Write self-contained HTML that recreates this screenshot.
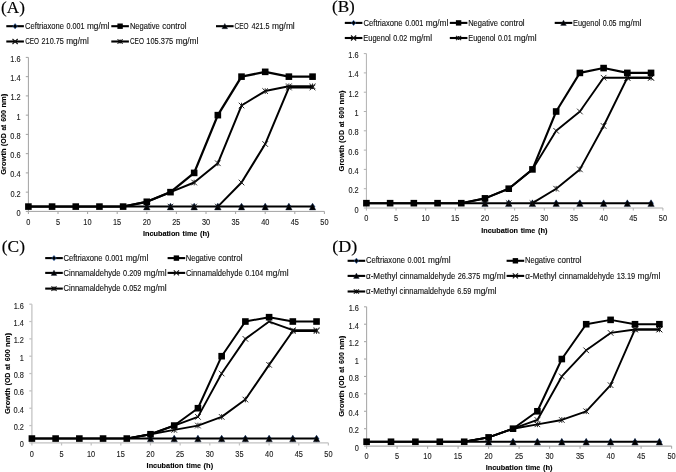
<!DOCTYPE html>
<html><head><meta charset="utf-8"><title>Growth curves</title>
<style>
html,body{margin:0;padding:0;background:#fff;}
body{width:676px;height:472px;overflow:hidden;font-family:"Liberation Sans", sans-serif;}
svg{display:block;will-change:transform;}
</style></head>
<body>
<svg width="676" height="472" viewBox="0 0 676 472">
<rect width="676" height="472" fill="#fff"/>
<path d="M28.40 57.40V211.40H324.40" stroke="#a2a2a2" stroke-width="1.0" fill="none"/>
<path d="M25.80 211.40H28.40" stroke="#a2a2a2" stroke-width="1.0"/>
<text x="16.48" y="215.90" font-family='"Liberation Sans", sans-serif' font-size="8.4" font-weight="normal" fill="#1a1a1a" stroke="#1a1a1a" stroke-width="0.12" textLength="4.11" lengthAdjust="spacingAndGlyphs">0</text>
<path d="M25.80 192.15H28.40" stroke="#a2a2a2" stroke-width="1.0"/>
<text x="10.39" y="196.65" font-family='"Liberation Sans", sans-serif' font-size="8.4" font-weight="normal" fill="#1a1a1a" stroke="#1a1a1a" stroke-width="0.12" textLength="10.28" lengthAdjust="spacingAndGlyphs">0.2</text>
<path d="M25.80 172.90H28.40" stroke="#a2a2a2" stroke-width="1.0"/>
<text x="10.24" y="177.40" font-family='"Liberation Sans", sans-serif' font-size="8.4" font-weight="normal" fill="#1a1a1a" stroke="#1a1a1a" stroke-width="0.12" textLength="10.28" lengthAdjust="spacingAndGlyphs">0.4</text>
<path d="M25.80 153.65H28.40" stroke="#a2a2a2" stroke-width="1.0"/>
<text x="10.35" y="158.15" font-family='"Liberation Sans", sans-serif' font-size="8.4" font-weight="normal" fill="#1a1a1a" stroke="#1a1a1a" stroke-width="0.12" textLength="10.28" lengthAdjust="spacingAndGlyphs">0.6</text>
<path d="M25.80 134.40H28.40" stroke="#a2a2a2" stroke-width="1.0"/>
<text x="10.34" y="138.90" font-family='"Liberation Sans", sans-serif' font-size="8.4" font-weight="normal" fill="#1a1a1a" stroke="#1a1a1a" stroke-width="0.12" textLength="10.28" lengthAdjust="spacingAndGlyphs">0.8</text>
<path d="M25.80 115.15H28.40" stroke="#a2a2a2" stroke-width="1.0"/>
<text x="16.55" y="119.65" font-family='"Liberation Sans", sans-serif' font-size="8.4" font-weight="normal" fill="#1a1a1a" stroke="#1a1a1a" stroke-width="0.12" textLength="4.11" lengthAdjust="spacingAndGlyphs">1</text>
<path d="M25.80 95.90H28.40" stroke="#a2a2a2" stroke-width="1.0"/>
<text x="10.39" y="100.40" font-family='"Liberation Sans", sans-serif' font-size="8.4" font-weight="normal" fill="#1a1a1a" stroke="#1a1a1a" stroke-width="0.12" textLength="10.28" lengthAdjust="spacingAndGlyphs">1.2</text>
<path d="M25.80 76.65H28.40" stroke="#a2a2a2" stroke-width="1.0"/>
<text x="10.24" y="81.15" font-family='"Liberation Sans", sans-serif' font-size="8.4" font-weight="normal" fill="#1a1a1a" stroke="#1a1a1a" stroke-width="0.12" textLength="10.28" lengthAdjust="spacingAndGlyphs">1.4</text>
<path d="M25.80 57.40H28.40" stroke="#a2a2a2" stroke-width="1.0"/>
<text x="10.35" y="61.90" font-family='"Liberation Sans", sans-serif' font-size="8.4" font-weight="normal" fill="#1a1a1a" stroke="#1a1a1a" stroke-width="0.12" textLength="10.28" lengthAdjust="spacingAndGlyphs">1.6</text>
<path d="M28.40 211.40V214.00" stroke="#a2a2a2" stroke-width="1.0"/>
<text x="26.35" y="224.60" font-family='"Liberation Sans", sans-serif' font-size="8.4" font-weight="normal" fill="#1a1a1a" stroke="#1a1a1a" stroke-width="0.12" textLength="4.11" lengthAdjust="spacingAndGlyphs">0</text>
<path d="M58.00 211.40V214.00" stroke="#a2a2a2" stroke-width="1.0"/>
<text x="55.95" y="224.60" font-family='"Liberation Sans", sans-serif' font-size="8.4" font-weight="normal" fill="#1a1a1a" stroke="#1a1a1a" stroke-width="0.12" textLength="4.11" lengthAdjust="spacingAndGlyphs">5</text>
<path d="M87.60 211.40V214.00" stroke="#a2a2a2" stroke-width="1.0"/>
<text x="83.35" y="224.60" font-family='"Liberation Sans", sans-serif' font-size="8.4" font-weight="normal" fill="#1a1a1a" stroke="#1a1a1a" stroke-width="0.12" textLength="8.22" lengthAdjust="spacingAndGlyphs">10</text>
<path d="M117.20 211.40V214.00" stroke="#a2a2a2" stroke-width="1.0"/>
<text x="112.96" y="224.60" font-family='"Liberation Sans", sans-serif' font-size="8.4" font-weight="normal" fill="#1a1a1a" stroke="#1a1a1a" stroke-width="0.12" textLength="8.22" lengthAdjust="spacingAndGlyphs">15</text>
<path d="M146.80 211.40V214.00" stroke="#a2a2a2" stroke-width="1.0"/>
<text x="142.65" y="224.60" font-family='"Liberation Sans", sans-serif' font-size="8.4" font-weight="normal" fill="#1a1a1a" stroke="#1a1a1a" stroke-width="0.12" textLength="8.22" lengthAdjust="spacingAndGlyphs">20</text>
<path d="M176.40 211.40V214.00" stroke="#a2a2a2" stroke-width="1.0"/>
<text x="172.26" y="224.60" font-family='"Liberation Sans", sans-serif' font-size="8.4" font-weight="normal" fill="#1a1a1a" stroke="#1a1a1a" stroke-width="0.12" textLength="8.22" lengthAdjust="spacingAndGlyphs">25</text>
<path d="M206.00 211.40V214.00" stroke="#a2a2a2" stroke-width="1.0"/>
<text x="201.89" y="224.60" font-family='"Liberation Sans", sans-serif' font-size="8.4" font-weight="normal" fill="#1a1a1a" stroke="#1a1a1a" stroke-width="0.12" textLength="8.22" lengthAdjust="spacingAndGlyphs">30</text>
<path d="M235.60 211.40V214.00" stroke="#a2a2a2" stroke-width="1.0"/>
<text x="231.50" y="224.60" font-family='"Liberation Sans", sans-serif' font-size="8.4" font-weight="normal" fill="#1a1a1a" stroke="#1a1a1a" stroke-width="0.12" textLength="8.22" lengthAdjust="spacingAndGlyphs">35</text>
<path d="M265.20 211.40V214.00" stroke="#a2a2a2" stroke-width="1.0"/>
<text x="261.15" y="224.60" font-family='"Liberation Sans", sans-serif' font-size="8.4" font-weight="normal" fill="#1a1a1a" stroke="#1a1a1a" stroke-width="0.12" textLength="8.22" lengthAdjust="spacingAndGlyphs">40</text>
<path d="M294.80 211.40V214.00" stroke="#a2a2a2" stroke-width="1.0"/>
<text x="290.76" y="224.60" font-family='"Liberation Sans", sans-serif' font-size="8.4" font-weight="normal" fill="#1a1a1a" stroke="#1a1a1a" stroke-width="0.12" textLength="8.22" lengthAdjust="spacingAndGlyphs">45</text>
<path d="M324.40 211.40V214.00" stroke="#a2a2a2" stroke-width="1.0"/>
<text x="320.29" y="224.60" font-family='"Liberation Sans", sans-serif' font-size="8.4" font-weight="normal" fill="#1a1a1a" stroke="#1a1a1a" stroke-width="0.12" textLength="8.22" lengthAdjust="spacingAndGlyphs">50</text>
<path d="M146.80 203.59L149.20 206.59L146.80 209.59L144.40 206.59Z" fill="#000" stroke="#3d74c4" stroke-width="0.6"/>
<path d="M170.48 203.59L172.88 206.59L170.48 209.59L168.08 206.59Z" fill="#000" stroke="#3d74c4" stroke-width="0.6"/>
<path d="M194.16 203.59L196.56 206.59L194.16 209.59L191.76 206.59Z" fill="#000" stroke="#3d74c4" stroke-width="0.6"/>
<path d="M217.84 203.59L220.24 206.59L217.84 209.59L215.44 206.59Z" fill="#000" stroke="#3d74c4" stroke-width="0.6"/>
<path d="M241.52 203.59L243.92 206.59L241.52 209.59L239.12 206.59Z" fill="#000" stroke="#3d74c4" stroke-width="0.6"/>
<path d="M265.20 203.59L267.60 206.59L265.20 209.59L262.80 206.59Z" fill="#000" stroke="#3d74c4" stroke-width="0.6"/>
<path d="M288.88 203.59L291.28 206.59L288.88 209.59L286.48 206.59Z" fill="#000" stroke="#3d74c4" stroke-width="0.6"/>
<path d="M312.56 203.59L314.96 206.59L312.56 209.59L310.16 206.59Z" fill="#000" stroke="#3d74c4" stroke-width="0.6"/>
<polyline points="28.40,206.59 52.08,206.59 75.76,206.59 99.44,206.59 123.12,206.59 146.80,206.59 170.48,206.59 194.16,206.59 217.84,206.59 241.52,206.59 265.20,206.59 288.88,206.59 312.56,206.59" fill="none" stroke="#000" stroke-width="2.0" stroke-linejoin="round" stroke-linecap="round"/>
<path d="M146.80 203.19L150.00 209.89L143.60 209.89Z" fill="#000" stroke="#1f2a44" stroke-width="0.4"/>
<path d="M170.48 203.19L173.68 209.89L167.28 209.89Z" fill="#000" stroke="#1f2a44" stroke-width="0.4"/>
<path d="M194.16 203.19L197.36 209.89L190.96 209.89Z" fill="#000" stroke="#1f2a44" stroke-width="0.4"/>
<path d="M217.84 203.19L221.04 209.89L214.64 209.89Z" fill="#000" stroke="#1f2a44" stroke-width="0.4"/>
<path d="M241.52 203.19L244.72 209.89L238.32 209.89Z" fill="#000" stroke="#1f2a44" stroke-width="0.4"/>
<path d="M265.20 203.19L268.40 209.89L262.00 209.89Z" fill="#000" stroke="#1f2a44" stroke-width="0.4"/>
<path d="M288.88 203.19L292.08 209.89L285.68 209.89Z" fill="#000" stroke="#1f2a44" stroke-width="0.4"/>
<path d="M312.56 203.19L315.76 209.89L309.36 209.89Z" fill="#000" stroke="#1f2a44" stroke-width="0.4"/>
<polyline points="217.84,206.59 241.52,182.53 265.20,144.03 288.88,87.53 312.56,87.53" fill="none" stroke="#000" stroke-width="2.0" stroke-linejoin="round" stroke-linecap="round"/>
<path d="M144.00 203.79L149.60 209.39M149.60 203.79L144.00 209.39" stroke="#111" stroke-width="0.9" fill="none"/>
<path d="M167.68 203.79L173.28 209.39M173.28 203.79L167.68 209.39" stroke="#111" stroke-width="0.9" fill="none"/>
<path d="M191.36 203.79L196.96 209.39M196.96 203.79L191.36 209.39" stroke="#111" stroke-width="0.9" fill="none"/>
<path d="M215.04 203.79L220.64 209.39M220.64 203.79L215.04 209.39" stroke="#111" stroke-width="0.9" fill="none"/>
<path d="M238.72 179.72L244.32 185.33M244.32 179.72L238.72 185.33" stroke="#111" stroke-width="0.9" fill="none"/>
<path d="M262.40 141.22L268.00 146.83M268.00 141.22L262.40 146.83" stroke="#111" stroke-width="0.9" fill="none"/>
<path d="M286.08 84.73L291.68 90.33M291.68 84.73L286.08 90.33" stroke="#111" stroke-width="0.9" fill="none"/>
<path d="M309.76 84.73L315.36 90.33M315.36 84.73L309.76 90.33" stroke="#111" stroke-width="0.9" fill="none"/>
<polyline points="123.12,206.59 146.80,201.78 170.48,192.15 194.16,182.53 217.84,163.28 241.52,105.52 265.20,91.09 288.88,86.28 312.56,86.28" fill="none" stroke="#000" stroke-width="2.0" stroke-linejoin="round" stroke-linecap="round"/>
<path d="M191.36 179.72L196.96 185.33M196.96 179.72L191.36 185.33M194.16 179.72L194.16 185.33" stroke="#111" stroke-width="0.9" fill="none"/>
<path d="M215.04 160.47L220.64 166.08M220.64 160.47L215.04 166.08M217.84 160.47L217.84 166.08" stroke="#111" stroke-width="0.9" fill="none"/>
<path d="M238.72 102.72L244.32 108.32M244.32 102.72L238.72 108.32M241.52 102.72L241.52 108.32" stroke="#111" stroke-width="0.9" fill="none"/>
<path d="M262.40 88.29L268.00 93.89M268.00 88.29L262.40 93.89M265.20 88.29L265.20 93.89" stroke="#111" stroke-width="0.9" fill="none"/>
<path d="M286.08 83.48L291.68 89.08M291.68 83.48L286.08 89.08M288.88 83.48L288.88 89.08" stroke="#111" stroke-width="0.9" fill="none"/>
<path d="M309.76 83.48L315.36 89.08M315.36 83.48L309.76 89.08M312.56 83.48L312.56 89.08" stroke="#111" stroke-width="0.9" fill="none"/>
<polyline points="28.40,206.59 52.08,206.59 75.76,206.59 99.44,206.59 123.12,206.59 146.80,201.78 170.48,192.15 194.16,172.90 217.84,115.15 241.52,76.65 265.20,71.84 288.88,76.65 312.56,76.65" fill="none" stroke="#000" stroke-width="2.3" stroke-linejoin="round" stroke-linecap="round"/>
<rect x="25.10" y="203.29" width="6.60" height="6.60" fill="#000"/>
<rect x="48.78" y="203.29" width="6.60" height="6.60" fill="#000"/>
<rect x="72.46" y="203.29" width="6.60" height="6.60" fill="#000"/>
<rect x="96.14" y="203.29" width="6.60" height="6.60" fill="#000"/>
<rect x="119.82" y="203.29" width="6.60" height="6.60" fill="#000"/>
<rect x="143.50" y="198.47" width="6.60" height="6.60" fill="#000"/>
<rect x="167.18" y="188.85" width="6.60" height="6.60" fill="#000"/>
<rect x="190.86" y="169.60" width="6.60" height="6.60" fill="#000"/>
<rect x="214.54" y="111.85" width="6.60" height="6.60" fill="#000"/>
<rect x="238.22" y="73.35" width="6.60" height="6.60" fill="#000"/>
<rect x="261.90" y="68.54" width="6.60" height="6.60" fill="#000"/>
<rect x="285.58" y="73.35" width="6.60" height="6.60" fill="#000"/>
<rect x="309.26" y="73.35" width="6.60" height="6.60" fill="#000"/>
<text x="1.05" y="12.60" font-family='"Liberation Serif", serif' font-size="16" font-weight="normal" fill="#000" stroke="#000" stroke-width="0.15" textLength="23.81" lengthAdjust="spacingAndGlyphs">(A)</text>
<text transform="translate(6.00 174.81) rotate(-90)" x="0" y="0" font-family='"Liberation Sans", sans-serif' font-size="8.0" font-weight="bold" fill="#000" stroke="#000" stroke-width="0.12" textLength="26.31" lengthAdjust="spacingAndGlyphs">Growth</text>
<text transform="translate(6.00 146.03) rotate(-90)" x="0" y="0" font-family='"Liberation Sans", sans-serif' font-size="8.0" font-weight="bold" fill="#000" stroke="#000" stroke-width="0.12" textLength="12.66" lengthAdjust="spacingAndGlyphs">(OD</text>
<text transform="translate(6.00 130.58) rotate(-90)" x="0" y="0" font-family='"Liberation Sans", sans-serif' font-size="8.0" font-weight="bold" fill="#000" stroke="#000" stroke-width="0.12" textLength="5.82" lengthAdjust="spacingAndGlyphs">at</text>
<text transform="translate(6.00 121.83) rotate(-90)" x="0" y="0" font-family='"Liberation Sans", sans-serif' font-size="8.0" font-weight="bold" fill="#000" stroke="#000" stroke-width="0.12" textLength="11.74" lengthAdjust="spacingAndGlyphs">600</text>
<text transform="translate(6.00 107.61) rotate(-90)" x="0" y="0" font-family='"Liberation Sans", sans-serif' font-size="8.0" font-weight="bold" fill="#000" stroke="#000" stroke-width="0.12" textLength="13.89" lengthAdjust="spacingAndGlyphs">nm)</text>
<text x="142.91" y="235.80" font-family='"Liberation Sans", sans-serif' font-size="8.0" font-weight="bold" fill="#000" stroke="#000" stroke-width="0.12" textLength="36.93" lengthAdjust="spacingAndGlyphs">Incubation</text>
<text x="182.57" y="235.80" font-family='"Liberation Sans", sans-serif' font-size="8.0" font-weight="bold" fill="#000" stroke="#000" stroke-width="0.12" textLength="14.68" lengthAdjust="spacingAndGlyphs">time</text>
<text x="199.90" y="235.80" font-family='"Liberation Sans", sans-serif' font-size="8.0" font-weight="bold" fill="#000" stroke="#000" stroke-width="0.12" textLength="9.58" lengthAdjust="spacingAndGlyphs">(h)</text>
<path d="M366.40 53.60V208.00H662.90" stroke="#b0b0b0" stroke-width="1.0" fill="none"/>
<path d="M363.80 208.00H366.40" stroke="#b0b0b0" stroke-width="1.0"/>
<text x="354.48" y="212.50" font-family='"Liberation Sans", sans-serif' font-size="8.4" font-weight="normal" fill="#1a1a1a" stroke="#1a1a1a" stroke-width="0.12" textLength="4.11" lengthAdjust="spacingAndGlyphs">0</text>
<path d="M363.80 188.70H366.40" stroke="#b0b0b0" stroke-width="1.0"/>
<text x="348.39" y="193.20" font-family='"Liberation Sans", sans-serif' font-size="8.4" font-weight="normal" fill="#1a1a1a" stroke="#1a1a1a" stroke-width="0.12" textLength="10.28" lengthAdjust="spacingAndGlyphs">0.2</text>
<path d="M363.80 169.40H366.40" stroke="#b0b0b0" stroke-width="1.0"/>
<text x="348.24" y="173.90" font-family='"Liberation Sans", sans-serif' font-size="8.4" font-weight="normal" fill="#1a1a1a" stroke="#1a1a1a" stroke-width="0.12" textLength="10.28" lengthAdjust="spacingAndGlyphs">0.4</text>
<path d="M363.80 150.10H366.40" stroke="#b0b0b0" stroke-width="1.0"/>
<text x="348.35" y="154.60" font-family='"Liberation Sans", sans-serif' font-size="8.4" font-weight="normal" fill="#1a1a1a" stroke="#1a1a1a" stroke-width="0.12" textLength="10.28" lengthAdjust="spacingAndGlyphs">0.6</text>
<path d="M363.80 130.80H366.40" stroke="#b0b0b0" stroke-width="1.0"/>
<text x="348.34" y="135.30" font-family='"Liberation Sans", sans-serif' font-size="8.4" font-weight="normal" fill="#1a1a1a" stroke="#1a1a1a" stroke-width="0.12" textLength="10.28" lengthAdjust="spacingAndGlyphs">0.8</text>
<path d="M363.80 111.50H366.40" stroke="#b0b0b0" stroke-width="1.0"/>
<text x="354.55" y="116.00" font-family='"Liberation Sans", sans-serif' font-size="8.4" font-weight="normal" fill="#1a1a1a" stroke="#1a1a1a" stroke-width="0.12" textLength="4.11" lengthAdjust="spacingAndGlyphs">1</text>
<path d="M363.80 92.20H366.40" stroke="#b0b0b0" stroke-width="1.0"/>
<text x="348.39" y="96.70" font-family='"Liberation Sans", sans-serif' font-size="8.4" font-weight="normal" fill="#1a1a1a" stroke="#1a1a1a" stroke-width="0.12" textLength="10.28" lengthAdjust="spacingAndGlyphs">1.2</text>
<path d="M363.80 72.90H366.40" stroke="#b0b0b0" stroke-width="1.0"/>
<text x="348.24" y="77.40" font-family='"Liberation Sans", sans-serif' font-size="8.4" font-weight="normal" fill="#1a1a1a" stroke="#1a1a1a" stroke-width="0.12" textLength="10.28" lengthAdjust="spacingAndGlyphs">1.4</text>
<path d="M363.80 53.60H366.40" stroke="#b0b0b0" stroke-width="1.0"/>
<text x="348.35" y="58.10" font-family='"Liberation Sans", sans-serif' font-size="8.4" font-weight="normal" fill="#1a1a1a" stroke="#1a1a1a" stroke-width="0.12" textLength="10.28" lengthAdjust="spacingAndGlyphs">1.6</text>
<path d="M366.40 208.00V210.60" stroke="#b0b0b0" stroke-width="1.0"/>
<text x="364.35" y="221.30" font-family='"Liberation Sans", sans-serif' font-size="8.4" font-weight="normal" fill="#1a1a1a" stroke="#1a1a1a" stroke-width="0.12" textLength="4.11" lengthAdjust="spacingAndGlyphs">0</text>
<path d="M396.05 208.00V210.60" stroke="#b0b0b0" stroke-width="1.0"/>
<text x="394.00" y="221.30" font-family='"Liberation Sans", sans-serif' font-size="8.4" font-weight="normal" fill="#1a1a1a" stroke="#1a1a1a" stroke-width="0.12" textLength="4.11" lengthAdjust="spacingAndGlyphs">5</text>
<path d="M425.70 208.00V210.60" stroke="#b0b0b0" stroke-width="1.0"/>
<text x="421.45" y="221.30" font-family='"Liberation Sans", sans-serif' font-size="8.4" font-weight="normal" fill="#1a1a1a" stroke="#1a1a1a" stroke-width="0.12" textLength="8.22" lengthAdjust="spacingAndGlyphs">10</text>
<path d="M455.35 208.00V210.60" stroke="#b0b0b0" stroke-width="1.0"/>
<text x="451.11" y="221.30" font-family='"Liberation Sans", sans-serif' font-size="8.4" font-weight="normal" fill="#1a1a1a" stroke="#1a1a1a" stroke-width="0.12" textLength="8.22" lengthAdjust="spacingAndGlyphs">15</text>
<path d="M485.00 208.00V210.60" stroke="#b0b0b0" stroke-width="1.0"/>
<text x="480.85" y="221.30" font-family='"Liberation Sans", sans-serif' font-size="8.4" font-weight="normal" fill="#1a1a1a" stroke="#1a1a1a" stroke-width="0.12" textLength="8.22" lengthAdjust="spacingAndGlyphs">20</text>
<path d="M514.65 208.00V210.60" stroke="#b0b0b0" stroke-width="1.0"/>
<text x="510.51" y="221.30" font-family='"Liberation Sans", sans-serif' font-size="8.4" font-weight="normal" fill="#1a1a1a" stroke="#1a1a1a" stroke-width="0.12" textLength="8.22" lengthAdjust="spacingAndGlyphs">25</text>
<path d="M544.30 208.00V210.60" stroke="#b0b0b0" stroke-width="1.0"/>
<text x="540.19" y="221.30" font-family='"Liberation Sans", sans-serif' font-size="8.4" font-weight="normal" fill="#1a1a1a" stroke="#1a1a1a" stroke-width="0.12" textLength="8.22" lengthAdjust="spacingAndGlyphs">30</text>
<path d="M573.95 208.00V210.60" stroke="#b0b0b0" stroke-width="1.0"/>
<text x="569.85" y="221.30" font-family='"Liberation Sans", sans-serif' font-size="8.4" font-weight="normal" fill="#1a1a1a" stroke="#1a1a1a" stroke-width="0.12" textLength="8.22" lengthAdjust="spacingAndGlyphs">35</text>
<path d="M603.60 208.00V210.60" stroke="#b0b0b0" stroke-width="1.0"/>
<text x="599.55" y="221.30" font-family='"Liberation Sans", sans-serif' font-size="8.4" font-weight="normal" fill="#1a1a1a" stroke="#1a1a1a" stroke-width="0.12" textLength="8.22" lengthAdjust="spacingAndGlyphs">40</text>
<path d="M633.25 208.00V210.60" stroke="#b0b0b0" stroke-width="1.0"/>
<text x="629.21" y="221.30" font-family='"Liberation Sans", sans-serif' font-size="8.4" font-weight="normal" fill="#1a1a1a" stroke="#1a1a1a" stroke-width="0.12" textLength="8.22" lengthAdjust="spacingAndGlyphs">45</text>
<path d="M662.90 208.00V210.60" stroke="#b0b0b0" stroke-width="1.0"/>
<text x="658.79" y="221.30" font-family='"Liberation Sans", sans-serif' font-size="8.4" font-weight="normal" fill="#1a1a1a" stroke="#1a1a1a" stroke-width="0.12" textLength="8.22" lengthAdjust="spacingAndGlyphs">50</text>
<path d="M485.00 200.18L487.40 203.18L485.00 206.18L482.60 203.18Z" fill="#000" stroke="#3d74c4" stroke-width="0.6"/>
<path d="M508.72 200.18L511.12 203.18L508.72 206.18L506.32 203.18Z" fill="#000" stroke="#3d74c4" stroke-width="0.6"/>
<path d="M532.44 200.18L534.84 203.18L532.44 206.18L530.04 203.18Z" fill="#000" stroke="#3d74c4" stroke-width="0.6"/>
<path d="M556.16 200.18L558.56 203.18L556.16 206.18L553.76 203.18Z" fill="#000" stroke="#3d74c4" stroke-width="0.6"/>
<path d="M579.88 200.18L582.28 203.18L579.88 206.18L577.48 203.18Z" fill="#000" stroke="#3d74c4" stroke-width="0.6"/>
<path d="M603.60 200.18L606.00 203.18L603.60 206.18L601.20 203.18Z" fill="#000" stroke="#3d74c4" stroke-width="0.6"/>
<path d="M627.32 200.18L629.72 203.18L627.32 206.18L624.92 203.18Z" fill="#000" stroke="#3d74c4" stroke-width="0.6"/>
<path d="M651.04 200.18L653.44 203.18L651.04 206.18L648.64 203.18Z" fill="#000" stroke="#3d74c4" stroke-width="0.6"/>
<polyline points="366.40,203.18 390.12,203.18 413.84,203.18 437.56,203.18 461.28,203.18 485.00,203.18 508.72,203.18 532.44,203.18 556.16,203.18 579.88,203.18 603.60,203.18 627.32,203.18 651.04,203.18" fill="none" stroke="#000" stroke-width="1.9" stroke-linejoin="round" stroke-linecap="round"/>
<path d="M485.00 199.78L488.20 206.48L481.80 206.48Z" fill="#000" stroke="#1f2a44" stroke-width="0.4"/>
<path d="M508.72 199.78L511.92 206.48L505.52 206.48Z" fill="#000" stroke="#1f2a44" stroke-width="0.4"/>
<path d="M532.44 199.78L535.64 206.48L529.24 206.48Z" fill="#000" stroke="#1f2a44" stroke-width="0.4"/>
<path d="M556.16 199.78L559.36 206.48L552.96 206.48Z" fill="#000" stroke="#1f2a44" stroke-width="0.4"/>
<path d="M579.88 199.78L583.08 206.48L576.68 206.48Z" fill="#000" stroke="#1f2a44" stroke-width="0.4"/>
<path d="M603.60 199.78L606.80 206.48L600.40 206.48Z" fill="#000" stroke="#1f2a44" stroke-width="0.4"/>
<path d="M627.32 199.78L630.52 206.48L624.12 206.48Z" fill="#000" stroke="#1f2a44" stroke-width="0.4"/>
<path d="M651.04 199.78L654.24 206.48L647.84 206.48Z" fill="#000" stroke="#1f2a44" stroke-width="0.4"/>
<polyline points="532.44,203.18 556.16,188.70 579.88,169.40 603.60,125.98 627.32,77.72 651.04,77.72" fill="none" stroke="#000" stroke-width="1.9" stroke-linejoin="round" stroke-linecap="round"/>
<path d="M482.20 200.38L487.80 205.98M487.80 200.38L482.20 205.98M485.00 200.38L485.00 205.98" stroke="#111" stroke-width="0.9" fill="none"/>
<path d="M505.92 200.38L511.52 205.98M511.52 200.38L505.92 205.98M508.72 200.38L508.72 205.98" stroke="#111" stroke-width="0.9" fill="none"/>
<path d="M529.64 200.38L535.24 205.98M535.24 200.38L529.64 205.98M532.44 200.38L532.44 205.98" stroke="#111" stroke-width="0.9" fill="none"/>
<path d="M553.36 185.90L558.96 191.50M558.96 185.90L553.36 191.50M556.16 185.90L556.16 191.50" stroke="#111" stroke-width="0.9" fill="none"/>
<path d="M577.08 166.60L582.68 172.20M582.68 166.60L577.08 172.20M579.88 166.60L579.88 172.20" stroke="#111" stroke-width="0.9" fill="none"/>
<path d="M600.80 123.18L606.40 128.78M606.40 123.18L600.80 128.78M603.60 123.18L603.60 128.78" stroke="#111" stroke-width="0.9" fill="none"/>
<path d="M624.52 74.92L630.12 80.52M630.12 74.92L624.52 80.52M627.32 74.92L627.32 80.52" stroke="#111" stroke-width="0.9" fill="none"/>
<path d="M648.24 74.92L653.84 80.52M653.84 74.92L648.24 80.52M651.04 74.92L651.04 80.52" stroke="#111" stroke-width="0.9" fill="none"/>
<polyline points="461.28,203.18 485.00,198.35 508.72,188.70 532.44,169.40 556.16,130.80 579.88,111.50 603.60,77.72 627.32,77.72 651.04,77.72" fill="none" stroke="#000" stroke-width="1.9" stroke-linejoin="round" stroke-linecap="round"/>
<path d="M553.36 128.00L558.96 133.60M558.96 128.00L553.36 133.60" stroke="#111" stroke-width="0.9" fill="none"/>
<path d="M577.08 108.70L582.68 114.30M582.68 108.70L577.08 114.30" stroke="#111" stroke-width="0.9" fill="none"/>
<path d="M600.80 74.92L606.40 80.52M606.40 74.92L600.80 80.52" stroke="#111" stroke-width="0.9" fill="none"/>
<path d="M624.52 74.92L630.12 80.52M630.12 74.92L624.52 80.52" stroke="#111" stroke-width="0.9" fill="none"/>
<path d="M648.24 74.92L653.84 80.52M653.84 74.92L648.24 80.52" stroke="#111" stroke-width="0.9" fill="none"/>
<polyline points="366.40,203.18 390.12,203.18 413.84,203.18 437.56,203.18 461.28,203.18 485.00,198.35 508.72,188.70 532.44,169.40 556.16,111.50 579.88,72.90 603.60,68.08 627.32,72.90 651.04,72.90" fill="none" stroke="#000" stroke-width="2.1" stroke-linejoin="round" stroke-linecap="round"/>
<rect x="363.10" y="199.88" width="6.60" height="6.60" fill="#000"/>
<rect x="386.82" y="199.88" width="6.60" height="6.60" fill="#000"/>
<rect x="410.54" y="199.88" width="6.60" height="6.60" fill="#000"/>
<rect x="434.26" y="199.88" width="6.60" height="6.60" fill="#000"/>
<rect x="457.98" y="199.88" width="6.60" height="6.60" fill="#000"/>
<rect x="481.70" y="195.05" width="6.60" height="6.60" fill="#000"/>
<rect x="505.42" y="185.40" width="6.60" height="6.60" fill="#000"/>
<rect x="529.14" y="166.10" width="6.60" height="6.60" fill="#000"/>
<rect x="552.86" y="108.20" width="6.60" height="6.60" fill="#000"/>
<rect x="576.58" y="69.60" width="6.60" height="6.60" fill="#000"/>
<rect x="600.30" y="64.78" width="6.60" height="6.60" fill="#000"/>
<rect x="624.02" y="69.60" width="6.60" height="6.60" fill="#000"/>
<rect x="647.74" y="69.60" width="6.60" height="6.60" fill="#000"/>
<text x="331.94" y="11.60" font-family='"Liberation Serif", serif' font-size="16" font-weight="normal" fill="#000" stroke="#000" stroke-width="0.15" textLength="22.91" lengthAdjust="spacingAndGlyphs">(B)</text>
<text transform="translate(344.00 171.41) rotate(-90)" x="0" y="0" font-family='"Liberation Sans", sans-serif' font-size="8.0" font-weight="bold" fill="#000" stroke="#000" stroke-width="0.12" textLength="26.25" lengthAdjust="spacingAndGlyphs">Growth</text>
<text transform="translate(344.00 142.70) rotate(-90)" x="0" y="0" font-family='"Liberation Sans", sans-serif' font-size="8.0" font-weight="bold" fill="#000" stroke="#000" stroke-width="0.12" textLength="12.62" lengthAdjust="spacingAndGlyphs">(OD</text>
<text transform="translate(344.00 127.29) rotate(-90)" x="0" y="0" font-family='"Liberation Sans", sans-serif' font-size="8.0" font-weight="bold" fill="#000" stroke="#000" stroke-width="0.12" textLength="5.80" lengthAdjust="spacingAndGlyphs">at</text>
<text transform="translate(344.00 118.56) rotate(-90)" x="0" y="0" font-family='"Liberation Sans", sans-serif' font-size="8.0" font-weight="bold" fill="#000" stroke="#000" stroke-width="0.12" textLength="11.71" lengthAdjust="spacingAndGlyphs">600</text>
<text transform="translate(344.00 104.38) rotate(-90)" x="0" y="0" font-family='"Liberation Sans", sans-serif' font-size="8.0" font-weight="bold" fill="#000" stroke="#000" stroke-width="0.12" textLength="13.85" lengthAdjust="spacingAndGlyphs">nm)</text>
<text x="481.31" y="232.90" font-family='"Liberation Sans", sans-serif' font-size="8.0" font-weight="bold" fill="#000" stroke="#000" stroke-width="0.12" textLength="36.71" lengthAdjust="spacingAndGlyphs">Incubation</text>
<text x="520.74" y="232.90" font-family='"Liberation Sans", sans-serif' font-size="8.0" font-weight="bold" fill="#000" stroke="#000" stroke-width="0.12" textLength="14.58" lengthAdjust="spacingAndGlyphs">time</text>
<text x="537.96" y="232.90" font-family='"Liberation Sans", sans-serif' font-size="8.0" font-weight="bold" fill="#000" stroke="#000" stroke-width="0.12" textLength="9.51" lengthAdjust="spacingAndGlyphs">(h)</text>
<path d="M31.90 304.18V442.90H328.40" stroke="#c2c2c2" stroke-width="1.25" fill="none"/>
<path d="M29.30 442.90H31.90" stroke="#c2c2c2" stroke-width="1.25"/>
<text x="19.78" y="447.40" font-family='"Liberation Sans", sans-serif' font-size="8.4" font-weight="normal" fill="#1a1a1a" stroke="#1a1a1a" stroke-width="0.12" textLength="4.11" lengthAdjust="spacingAndGlyphs">0</text>
<path d="M29.30 425.56H31.90" stroke="#c2c2c2" stroke-width="1.25"/>
<text x="13.69" y="430.06" font-family='"Liberation Sans", sans-serif' font-size="8.4" font-weight="normal" fill="#1a1a1a" stroke="#1a1a1a" stroke-width="0.12" textLength="10.28" lengthAdjust="spacingAndGlyphs">0.2</text>
<path d="M29.30 408.22H31.90" stroke="#c2c2c2" stroke-width="1.25"/>
<text x="13.54" y="412.72" font-family='"Liberation Sans", sans-serif' font-size="8.4" font-weight="normal" fill="#1a1a1a" stroke="#1a1a1a" stroke-width="0.12" textLength="10.28" lengthAdjust="spacingAndGlyphs">0.4</text>
<path d="M29.30 390.88H31.90" stroke="#c2c2c2" stroke-width="1.25"/>
<text x="13.65" y="395.38" font-family='"Liberation Sans", sans-serif' font-size="8.4" font-weight="normal" fill="#1a1a1a" stroke="#1a1a1a" stroke-width="0.12" textLength="10.28" lengthAdjust="spacingAndGlyphs">0.6</text>
<path d="M29.30 373.54H31.90" stroke="#c2c2c2" stroke-width="1.25"/>
<text x="13.64" y="378.04" font-family='"Liberation Sans", sans-serif' font-size="8.4" font-weight="normal" fill="#1a1a1a" stroke="#1a1a1a" stroke-width="0.12" textLength="10.28" lengthAdjust="spacingAndGlyphs">0.8</text>
<path d="M29.30 356.20H31.90" stroke="#c2c2c2" stroke-width="1.25"/>
<text x="19.85" y="360.70" font-family='"Liberation Sans", sans-serif' font-size="8.4" font-weight="normal" fill="#1a1a1a" stroke="#1a1a1a" stroke-width="0.12" textLength="4.11" lengthAdjust="spacingAndGlyphs">1</text>
<path d="M29.30 338.86H31.90" stroke="#c2c2c2" stroke-width="1.25"/>
<text x="13.69" y="343.36" font-family='"Liberation Sans", sans-serif' font-size="8.4" font-weight="normal" fill="#1a1a1a" stroke="#1a1a1a" stroke-width="0.12" textLength="10.28" lengthAdjust="spacingAndGlyphs">1.2</text>
<path d="M29.30 321.52H31.90" stroke="#c2c2c2" stroke-width="1.25"/>
<text x="13.54" y="326.02" font-family='"Liberation Sans", sans-serif' font-size="8.4" font-weight="normal" fill="#1a1a1a" stroke="#1a1a1a" stroke-width="0.12" textLength="10.28" lengthAdjust="spacingAndGlyphs">1.4</text>
<path d="M29.30 304.18H31.90" stroke="#c2c2c2" stroke-width="1.25"/>
<text x="13.65" y="308.68" font-family='"Liberation Sans", sans-serif' font-size="8.4" font-weight="normal" fill="#1a1a1a" stroke="#1a1a1a" stroke-width="0.12" textLength="10.28" lengthAdjust="spacingAndGlyphs">1.6</text>
<path d="M31.90 442.90V445.50" stroke="#c2c2c2" stroke-width="1.25"/>
<text x="29.85" y="456.80" font-family='"Liberation Sans", sans-serif' font-size="8.4" font-weight="normal" fill="#1a1a1a" stroke="#1a1a1a" stroke-width="0.12" textLength="4.11" lengthAdjust="spacingAndGlyphs">0</text>
<path d="M61.55 442.90V445.50" stroke="#c2c2c2" stroke-width="1.25"/>
<text x="59.50" y="456.80" font-family='"Liberation Sans", sans-serif' font-size="8.4" font-weight="normal" fill="#1a1a1a" stroke="#1a1a1a" stroke-width="0.12" textLength="4.11" lengthAdjust="spacingAndGlyphs">5</text>
<path d="M91.20 442.90V445.50" stroke="#c2c2c2" stroke-width="1.25"/>
<text x="86.95" y="456.80" font-family='"Liberation Sans", sans-serif' font-size="8.4" font-weight="normal" fill="#1a1a1a" stroke="#1a1a1a" stroke-width="0.12" textLength="8.22" lengthAdjust="spacingAndGlyphs">10</text>
<path d="M120.85 442.90V445.50" stroke="#c2c2c2" stroke-width="1.25"/>
<text x="116.61" y="456.80" font-family='"Liberation Sans", sans-serif' font-size="8.4" font-weight="normal" fill="#1a1a1a" stroke="#1a1a1a" stroke-width="0.12" textLength="8.22" lengthAdjust="spacingAndGlyphs">15</text>
<path d="M150.50 442.90V445.50" stroke="#c2c2c2" stroke-width="1.25"/>
<text x="146.35" y="456.80" font-family='"Liberation Sans", sans-serif' font-size="8.4" font-weight="normal" fill="#1a1a1a" stroke="#1a1a1a" stroke-width="0.12" textLength="8.22" lengthAdjust="spacingAndGlyphs">20</text>
<path d="M180.15 442.90V445.50" stroke="#c2c2c2" stroke-width="1.25"/>
<text x="176.01" y="456.80" font-family='"Liberation Sans", sans-serif' font-size="8.4" font-weight="normal" fill="#1a1a1a" stroke="#1a1a1a" stroke-width="0.12" textLength="8.22" lengthAdjust="spacingAndGlyphs">25</text>
<path d="M209.80 442.90V445.50" stroke="#c2c2c2" stroke-width="1.25"/>
<text x="205.69" y="456.80" font-family='"Liberation Sans", sans-serif' font-size="8.4" font-weight="normal" fill="#1a1a1a" stroke="#1a1a1a" stroke-width="0.12" textLength="8.22" lengthAdjust="spacingAndGlyphs">30</text>
<path d="M239.45 442.90V445.50" stroke="#c2c2c2" stroke-width="1.25"/>
<text x="235.35" y="456.80" font-family='"Liberation Sans", sans-serif' font-size="8.4" font-weight="normal" fill="#1a1a1a" stroke="#1a1a1a" stroke-width="0.12" textLength="8.22" lengthAdjust="spacingAndGlyphs">35</text>
<path d="M269.10 442.90V445.50" stroke="#c2c2c2" stroke-width="1.25"/>
<text x="265.05" y="456.80" font-family='"Liberation Sans", sans-serif' font-size="8.4" font-weight="normal" fill="#1a1a1a" stroke="#1a1a1a" stroke-width="0.12" textLength="8.22" lengthAdjust="spacingAndGlyphs">40</text>
<path d="M298.75 442.90V445.50" stroke="#c2c2c2" stroke-width="1.25"/>
<text x="294.71" y="456.80" font-family='"Liberation Sans", sans-serif' font-size="8.4" font-weight="normal" fill="#1a1a1a" stroke="#1a1a1a" stroke-width="0.12" textLength="8.22" lengthAdjust="spacingAndGlyphs">45</text>
<path d="M328.40 442.90V445.50" stroke="#c2c2c2" stroke-width="1.25"/>
<text x="324.29" y="456.80" font-family='"Liberation Sans", sans-serif' font-size="8.4" font-weight="normal" fill="#1a1a1a" stroke="#1a1a1a" stroke-width="0.12" textLength="8.22" lengthAdjust="spacingAndGlyphs">50</text>
<path d="M150.50 435.56L152.90 438.56L150.50 441.56L148.10 438.56Z" fill="#000" stroke="#3d74c4" stroke-width="0.6"/>
<path d="M174.22 435.56L176.62 438.56L174.22 441.56L171.82 438.56Z" fill="#000" stroke="#3d74c4" stroke-width="0.6"/>
<path d="M197.94 435.56L200.34 438.56L197.94 441.56L195.54 438.56Z" fill="#000" stroke="#3d74c4" stroke-width="0.6"/>
<path d="M221.66 435.56L224.06 438.56L221.66 441.56L219.26 438.56Z" fill="#000" stroke="#3d74c4" stroke-width="0.6"/>
<path d="M245.38 435.56L247.78 438.56L245.38 441.56L242.98 438.56Z" fill="#000" stroke="#3d74c4" stroke-width="0.6"/>
<path d="M269.10 435.56L271.50 438.56L269.10 441.56L266.70 438.56Z" fill="#000" stroke="#3d74c4" stroke-width="0.6"/>
<path d="M292.82 435.56L295.22 438.56L292.82 441.56L290.42 438.56Z" fill="#000" stroke="#3d74c4" stroke-width="0.6"/>
<path d="M316.54 435.56L318.94 438.56L316.54 441.56L314.14 438.56Z" fill="#000" stroke="#3d74c4" stroke-width="0.6"/>
<polyline points="31.90,438.56 55.62,438.56 79.34,438.56 103.06,438.56 126.78,438.56 150.50,438.56 174.22,438.56 197.94,438.56 221.66,438.56 245.38,438.56 269.10,438.56 292.82,438.56 316.54,438.56" fill="none" stroke="#000" stroke-width="1.9" stroke-linejoin="round" stroke-linecap="round"/>
<path d="M150.50 435.17L153.70 441.87L147.30 441.87Z" fill="#000" stroke="#1f2a44" stroke-width="0.4"/>
<path d="M174.22 435.17L177.42 441.87L171.02 441.87Z" fill="#000" stroke="#1f2a44" stroke-width="0.4"/>
<path d="M197.94 435.17L201.14 441.87L194.74 441.87Z" fill="#000" stroke="#1f2a44" stroke-width="0.4"/>
<path d="M221.66 435.17L224.86 441.87L218.46 441.87Z" fill="#000" stroke="#1f2a44" stroke-width="0.4"/>
<path d="M245.38 435.17L248.58 441.87L242.18 441.87Z" fill="#000" stroke="#1f2a44" stroke-width="0.4"/>
<path d="M269.10 435.17L272.30 441.87L265.90 441.87Z" fill="#000" stroke="#1f2a44" stroke-width="0.4"/>
<path d="M292.82 435.17L296.02 441.87L289.62 441.87Z" fill="#000" stroke="#1f2a44" stroke-width="0.4"/>
<path d="M316.54 435.17L319.74 441.87L313.34 441.87Z" fill="#000" stroke="#1f2a44" stroke-width="0.4"/>
<polyline points="126.78,438.56 150.50,434.23 174.22,429.89 197.94,425.56 221.66,416.89 245.38,399.55 269.10,364.87 292.82,331.06 316.54,331.06" fill="none" stroke="#000" stroke-width="1.9" stroke-linejoin="round" stroke-linecap="round"/>
<path d="M171.42 427.09L177.02 432.69M177.02 427.09L171.42 432.69M174.22 427.09L174.22 432.69" stroke="#111" stroke-width="0.9" fill="none"/>
<path d="M195.14 422.76L200.74 428.36M200.74 422.76L195.14 428.36M197.94 422.76L197.94 428.36" stroke="#111" stroke-width="0.9" fill="none"/>
<path d="M218.86 414.09L224.46 419.69M224.46 414.09L218.86 419.69M221.66 414.09L221.66 419.69" stroke="#111" stroke-width="0.9" fill="none"/>
<path d="M242.58 396.75L248.18 402.35M248.18 396.75L242.58 402.35M245.38 396.75L245.38 402.35" stroke="#111" stroke-width="0.9" fill="none"/>
<path d="M266.30 362.07L271.90 367.67M271.90 362.07L266.30 367.67M269.10 362.07L269.10 367.67" stroke="#111" stroke-width="0.9" fill="none"/>
<path d="M290.02 328.26L295.62 333.86M295.62 328.26L290.02 333.86M292.82 328.26L292.82 333.86" stroke="#111" stroke-width="0.9" fill="none"/>
<path d="M313.74 328.26L319.34 333.86M319.34 328.26L313.74 333.86M316.54 328.26L316.54 333.86" stroke="#111" stroke-width="0.9" fill="none"/>
<polyline points="126.78,438.56 150.50,434.23 174.22,425.56 197.94,416.89 221.66,373.54 245.38,338.86 269.10,321.52 292.82,330.19 316.54,330.19" fill="none" stroke="#000" stroke-width="1.9" stroke-linejoin="round" stroke-linecap="round"/>
<path d="M195.14 414.09L200.74 419.69M200.74 414.09L195.14 419.69" stroke="#111" stroke-width="0.9" fill="none"/>
<path d="M218.86 370.74L224.46 376.34M224.46 370.74L218.86 376.34" stroke="#111" stroke-width="0.9" fill="none"/>
<path d="M242.58 336.06L248.18 341.66M248.18 336.06L242.58 341.66" stroke="#111" stroke-width="0.9" fill="none"/>
<path d="M266.30 318.72L271.90 324.32M271.90 318.72L266.30 324.32" stroke="#111" stroke-width="0.9" fill="none"/>
<path d="M290.02 327.39L295.62 332.99M295.62 327.39L290.02 332.99" stroke="#111" stroke-width="0.9" fill="none"/>
<path d="M313.74 327.39L319.34 332.99M319.34 327.39L313.74 332.99" stroke="#111" stroke-width="0.9" fill="none"/>
<polyline points="31.90,438.56 55.62,438.56 79.34,438.56 103.06,438.56 126.78,438.56 150.50,434.23 174.22,425.56 197.94,408.22 221.66,356.20 245.38,321.52 269.10,317.18 292.82,321.52 316.54,321.52" fill="none" stroke="#000" stroke-width="2.0" stroke-linejoin="round" stroke-linecap="round"/>
<rect x="28.60" y="435.26" width="6.60" height="6.60" fill="#000"/>
<rect x="52.32" y="435.26" width="6.60" height="6.60" fill="#000"/>
<rect x="76.04" y="435.26" width="6.60" height="6.60" fill="#000"/>
<rect x="99.76" y="435.26" width="6.60" height="6.60" fill="#000"/>
<rect x="123.48" y="435.26" width="6.60" height="6.60" fill="#000"/>
<rect x="147.20" y="430.93" width="6.60" height="6.60" fill="#000"/>
<rect x="170.92" y="422.26" width="6.60" height="6.60" fill="#000"/>
<rect x="194.64" y="404.92" width="6.60" height="6.60" fill="#000"/>
<rect x="218.36" y="352.90" width="6.60" height="6.60" fill="#000"/>
<rect x="242.08" y="318.22" width="6.60" height="6.60" fill="#000"/>
<rect x="265.80" y="313.88" width="6.60" height="6.60" fill="#000"/>
<rect x="289.52" y="318.22" width="6.60" height="6.60" fill="#000"/>
<rect x="313.24" y="318.22" width="6.60" height="6.60" fill="#000"/>
<text x="1.73" y="252.30" font-family='"Liberation Serif", serif' font-size="16" font-weight="normal" fill="#000" stroke="#000" stroke-width="0.15" textLength="23.23" lengthAdjust="spacingAndGlyphs">(C)</text>
<text transform="translate(9.50 414.11) rotate(-90)" x="0" y="0" font-family='"Liberation Sans", sans-serif' font-size="8.0" font-weight="bold" fill="#000" stroke="#000" stroke-width="0.12" textLength="26.31" lengthAdjust="spacingAndGlyphs">Growth</text>
<text transform="translate(9.50 385.33) rotate(-90)" x="0" y="0" font-family='"Liberation Sans", sans-serif' font-size="8.0" font-weight="bold" fill="#000" stroke="#000" stroke-width="0.12" textLength="12.66" lengthAdjust="spacingAndGlyphs">(OD</text>
<text transform="translate(9.50 369.88) rotate(-90)" x="0" y="0" font-family='"Liberation Sans", sans-serif' font-size="8.0" font-weight="bold" fill="#000" stroke="#000" stroke-width="0.12" textLength="5.82" lengthAdjust="spacingAndGlyphs">at</text>
<text transform="translate(9.50 361.13) rotate(-90)" x="0" y="0" font-family='"Liberation Sans", sans-serif' font-size="8.0" font-weight="bold" fill="#000" stroke="#000" stroke-width="0.12" textLength="11.74" lengthAdjust="spacingAndGlyphs">600</text>
<text transform="translate(9.50 346.91) rotate(-90)" x="0" y="0" font-family='"Liberation Sans", sans-serif' font-size="8.0" font-weight="bold" fill="#000" stroke="#000" stroke-width="0.12" textLength="13.89" lengthAdjust="spacingAndGlyphs">nm)</text>
<text x="146.61" y="467.80" font-family='"Liberation Sans", sans-serif' font-size="8.0" font-weight="bold" fill="#000" stroke="#000" stroke-width="0.12" textLength="36.93" lengthAdjust="spacingAndGlyphs">Incubation</text>
<text x="186.27" y="467.80" font-family='"Liberation Sans", sans-serif' font-size="8.0" font-weight="bold" fill="#000" stroke="#000" stroke-width="0.12" textLength="14.68" lengthAdjust="spacingAndGlyphs">time</text>
<text x="203.60" y="467.80" font-family='"Liberation Sans", sans-serif' font-size="8.0" font-weight="bold" fill="#000" stroke="#000" stroke-width="0.12" textLength="9.58" lengthAdjust="spacingAndGlyphs">(h)</text>
<path d="M366.60 306.80V446.10H671.60" stroke="#ababab" stroke-width="1.1" fill="none"/>
<path d="M364.00 446.10H366.60" stroke="#ababab" stroke-width="1.1"/>
<text x="354.78" y="450.60" font-family='"Liberation Sans", sans-serif' font-size="8.4" font-weight="normal" fill="#1a1a1a" stroke="#1a1a1a" stroke-width="0.12" textLength="4.11" lengthAdjust="spacingAndGlyphs">0</text>
<path d="M364.00 428.69H366.60" stroke="#ababab" stroke-width="1.1"/>
<text x="348.69" y="433.19" font-family='"Liberation Sans", sans-serif' font-size="8.4" font-weight="normal" fill="#1a1a1a" stroke="#1a1a1a" stroke-width="0.12" textLength="10.28" lengthAdjust="spacingAndGlyphs">0.2</text>
<path d="M364.00 411.28H366.60" stroke="#ababab" stroke-width="1.1"/>
<text x="348.54" y="415.78" font-family='"Liberation Sans", sans-serif' font-size="8.4" font-weight="normal" fill="#1a1a1a" stroke="#1a1a1a" stroke-width="0.12" textLength="10.28" lengthAdjust="spacingAndGlyphs">0.4</text>
<path d="M364.00 393.86H366.60" stroke="#ababab" stroke-width="1.1"/>
<text x="348.65" y="398.36" font-family='"Liberation Sans", sans-serif' font-size="8.4" font-weight="normal" fill="#1a1a1a" stroke="#1a1a1a" stroke-width="0.12" textLength="10.28" lengthAdjust="spacingAndGlyphs">0.6</text>
<path d="M364.00 376.45H366.60" stroke="#ababab" stroke-width="1.1"/>
<text x="348.64" y="380.95" font-family='"Liberation Sans", sans-serif' font-size="8.4" font-weight="normal" fill="#1a1a1a" stroke="#1a1a1a" stroke-width="0.12" textLength="10.28" lengthAdjust="spacingAndGlyphs">0.8</text>
<path d="M364.00 359.04H366.60" stroke="#ababab" stroke-width="1.1"/>
<text x="354.85" y="363.54" font-family='"Liberation Sans", sans-serif' font-size="8.4" font-weight="normal" fill="#1a1a1a" stroke="#1a1a1a" stroke-width="0.12" textLength="4.11" lengthAdjust="spacingAndGlyphs">1</text>
<path d="M364.00 341.63H366.60" stroke="#ababab" stroke-width="1.1"/>
<text x="348.69" y="346.13" font-family='"Liberation Sans", sans-serif' font-size="8.4" font-weight="normal" fill="#1a1a1a" stroke="#1a1a1a" stroke-width="0.12" textLength="10.28" lengthAdjust="spacingAndGlyphs">1.2</text>
<path d="M364.00 324.22H366.60" stroke="#ababab" stroke-width="1.1"/>
<text x="348.54" y="328.72" font-family='"Liberation Sans", sans-serif' font-size="8.4" font-weight="normal" fill="#1a1a1a" stroke="#1a1a1a" stroke-width="0.12" textLength="10.28" lengthAdjust="spacingAndGlyphs">1.4</text>
<path d="M364.00 306.80H366.60" stroke="#ababab" stroke-width="1.1"/>
<text x="348.65" y="311.30" font-family='"Liberation Sans", sans-serif' font-size="8.4" font-weight="normal" fill="#1a1a1a" stroke="#1a1a1a" stroke-width="0.12" textLength="10.28" lengthAdjust="spacingAndGlyphs">1.6</text>
<path d="M366.60 446.10V448.70" stroke="#ababab" stroke-width="1.1"/>
<text x="364.55" y="459.00" font-family='"Liberation Sans", sans-serif' font-size="8.4" font-weight="normal" fill="#1a1a1a" stroke="#1a1a1a" stroke-width="0.12" textLength="4.11" lengthAdjust="spacingAndGlyphs">0</text>
<path d="M397.10 446.10V448.70" stroke="#ababab" stroke-width="1.1"/>
<text x="395.05" y="459.00" font-family='"Liberation Sans", sans-serif' font-size="8.4" font-weight="normal" fill="#1a1a1a" stroke="#1a1a1a" stroke-width="0.12" textLength="4.11" lengthAdjust="spacingAndGlyphs">5</text>
<path d="M427.60 446.10V448.70" stroke="#ababab" stroke-width="1.1"/>
<text x="423.35" y="459.00" font-family='"Liberation Sans", sans-serif' font-size="8.4" font-weight="normal" fill="#1a1a1a" stroke="#1a1a1a" stroke-width="0.12" textLength="8.22" lengthAdjust="spacingAndGlyphs">10</text>
<path d="M458.10 446.10V448.70" stroke="#ababab" stroke-width="1.1"/>
<text x="453.86" y="459.00" font-family='"Liberation Sans", sans-serif' font-size="8.4" font-weight="normal" fill="#1a1a1a" stroke="#1a1a1a" stroke-width="0.12" textLength="8.22" lengthAdjust="spacingAndGlyphs">15</text>
<path d="M488.60 446.10V448.70" stroke="#ababab" stroke-width="1.1"/>
<text x="484.45" y="459.00" font-family='"Liberation Sans", sans-serif' font-size="8.4" font-weight="normal" fill="#1a1a1a" stroke="#1a1a1a" stroke-width="0.12" textLength="8.22" lengthAdjust="spacingAndGlyphs">20</text>
<path d="M519.10 446.10V448.70" stroke="#ababab" stroke-width="1.1"/>
<text x="514.96" y="459.00" font-family='"Liberation Sans", sans-serif' font-size="8.4" font-weight="normal" fill="#1a1a1a" stroke="#1a1a1a" stroke-width="0.12" textLength="8.22" lengthAdjust="spacingAndGlyphs">25</text>
<path d="M549.60 446.10V448.70" stroke="#ababab" stroke-width="1.1"/>
<text x="545.49" y="459.00" font-family='"Liberation Sans", sans-serif' font-size="8.4" font-weight="normal" fill="#1a1a1a" stroke="#1a1a1a" stroke-width="0.12" textLength="8.22" lengthAdjust="spacingAndGlyphs">30</text>
<path d="M580.10 446.10V448.70" stroke="#ababab" stroke-width="1.1"/>
<text x="576.00" y="459.00" font-family='"Liberation Sans", sans-serif' font-size="8.4" font-weight="normal" fill="#1a1a1a" stroke="#1a1a1a" stroke-width="0.12" textLength="8.22" lengthAdjust="spacingAndGlyphs">35</text>
<path d="M610.60 446.10V448.70" stroke="#ababab" stroke-width="1.1"/>
<text x="606.55" y="459.00" font-family='"Liberation Sans", sans-serif' font-size="8.4" font-weight="normal" fill="#1a1a1a" stroke="#1a1a1a" stroke-width="0.12" textLength="8.22" lengthAdjust="spacingAndGlyphs">40</text>
<path d="M641.10 446.10V448.70" stroke="#ababab" stroke-width="1.1"/>
<text x="637.06" y="459.00" font-family='"Liberation Sans", sans-serif' font-size="8.4" font-weight="normal" fill="#1a1a1a" stroke="#1a1a1a" stroke-width="0.12" textLength="8.22" lengthAdjust="spacingAndGlyphs">45</text>
<path d="M671.60 446.10V448.70" stroke="#ababab" stroke-width="1.1"/>
<text x="667.49" y="459.00" font-family='"Liberation Sans", sans-serif' font-size="8.4" font-weight="normal" fill="#1a1a1a" stroke="#1a1a1a" stroke-width="0.12" textLength="8.22" lengthAdjust="spacingAndGlyphs">50</text>
<path d="M488.60 438.75L491.00 441.75L488.60 444.75L486.20 441.75Z" fill="#000" stroke="#3d74c4" stroke-width="0.6"/>
<path d="M513.00 438.75L515.40 441.75L513.00 444.75L510.60 441.75Z" fill="#000" stroke="#3d74c4" stroke-width="0.6"/>
<path d="M537.40 438.75L539.80 441.75L537.40 444.75L535.00 441.75Z" fill="#000" stroke="#3d74c4" stroke-width="0.6"/>
<path d="M561.80 438.75L564.20 441.75L561.80 444.75L559.40 441.75Z" fill="#000" stroke="#3d74c4" stroke-width="0.6"/>
<path d="M586.20 438.75L588.60 441.75L586.20 444.75L583.80 441.75Z" fill="#000" stroke="#3d74c4" stroke-width="0.6"/>
<path d="M610.60 438.75L613.00 441.75L610.60 444.75L608.20 441.75Z" fill="#000" stroke="#3d74c4" stroke-width="0.6"/>
<path d="M635.00 438.75L637.40 441.75L635.00 444.75L632.60 441.75Z" fill="#000" stroke="#3d74c4" stroke-width="0.6"/>
<path d="M659.40 438.75L661.80 441.75L659.40 444.75L657.00 441.75Z" fill="#000" stroke="#3d74c4" stroke-width="0.6"/>
<polyline points="366.60,441.75 391.00,441.75 415.40,441.75 439.80,441.75 464.20,441.75 488.60,441.75 513.00,441.75 537.40,441.75 561.80,441.75 586.20,441.75 610.60,441.75 635.00,441.75 659.40,441.75" fill="none" stroke="#000" stroke-width="1.9" stroke-linejoin="round" stroke-linecap="round"/>
<path d="M488.60 438.35L491.80 445.05L485.40 445.05Z" fill="#000" stroke="#1f2a44" stroke-width="0.4"/>
<path d="M513.00 438.35L516.20 445.05L509.80 445.05Z" fill="#000" stroke="#1f2a44" stroke-width="0.4"/>
<path d="M537.40 438.35L540.60 445.05L534.20 445.05Z" fill="#000" stroke="#1f2a44" stroke-width="0.4"/>
<path d="M561.80 438.35L565.00 445.05L558.60 445.05Z" fill="#000" stroke="#1f2a44" stroke-width="0.4"/>
<path d="M586.20 438.35L589.40 445.05L583.00 445.05Z" fill="#000" stroke="#1f2a44" stroke-width="0.4"/>
<path d="M610.60 438.35L613.80 445.05L607.40 445.05Z" fill="#000" stroke="#1f2a44" stroke-width="0.4"/>
<path d="M635.00 438.35L638.20 445.05L631.80 445.05Z" fill="#000" stroke="#1f2a44" stroke-width="0.4"/>
<path d="M659.40 438.35L662.60 445.05L656.20 445.05Z" fill="#000" stroke="#1f2a44" stroke-width="0.4"/>
<polyline points="464.20,441.75 488.60,437.39 513.00,428.69 537.40,424.34 561.80,419.98 586.20,411.28 610.60,385.16 635.00,329.44 659.40,329.44" fill="none" stroke="#000" stroke-width="1.9" stroke-linejoin="round" stroke-linecap="round"/>
<path d="M534.60 421.54L540.20 427.14M540.20 421.54L534.60 427.14M537.40 421.54L537.40 427.14" stroke="#111" stroke-width="0.9" fill="none"/>
<path d="M559.00 417.18L564.60 422.78M564.60 417.18L559.00 422.78M561.80 417.18L561.80 422.78" stroke="#111" stroke-width="0.9" fill="none"/>
<path d="M583.40 408.48L589.00 414.08M589.00 408.48L583.40 414.08M586.20 408.48L586.20 414.08" stroke="#111" stroke-width="0.9" fill="none"/>
<path d="M607.80 382.36L613.40 387.96M613.40 382.36L607.80 387.96M610.60 382.36L610.60 387.96" stroke="#111" stroke-width="0.9" fill="none"/>
<path d="M632.20 326.64L637.80 332.24M637.80 326.64L632.20 332.24M635.00 326.64L635.00 332.24" stroke="#111" stroke-width="0.9" fill="none"/>
<path d="M656.60 326.64L662.20 332.24M662.20 326.64L656.60 332.24M659.40 326.64L659.40 332.24" stroke="#111" stroke-width="0.9" fill="none"/>
<polyline points="464.20,441.75 488.60,437.39 513.00,428.69 537.40,419.98 561.80,376.45 586.20,350.33 610.60,332.92 635.00,329.44 659.40,329.44" fill="none" stroke="#000" stroke-width="1.9" stroke-linejoin="round" stroke-linecap="round"/>
<path d="M534.60 417.18L540.20 422.78M540.20 417.18L534.60 422.78" stroke="#111" stroke-width="0.9" fill="none"/>
<path d="M559.00 373.65L564.60 379.25M564.60 373.65L559.00 379.25" stroke="#111" stroke-width="0.9" fill="none"/>
<path d="M583.40 347.53L589.00 353.13M589.00 347.53L583.40 353.13" stroke="#111" stroke-width="0.9" fill="none"/>
<path d="M607.80 330.12L613.40 335.72M613.40 330.12L607.80 335.72" stroke="#111" stroke-width="0.9" fill="none"/>
<path d="M632.20 326.64L637.80 332.24M637.80 326.64L632.20 332.24" stroke="#111" stroke-width="0.9" fill="none"/>
<path d="M656.60 326.64L662.20 332.24M662.20 326.64L656.60 332.24" stroke="#111" stroke-width="0.9" fill="none"/>
<polyline points="366.60,441.75 391.00,441.75 415.40,441.75 439.80,441.75 464.20,441.75 488.60,437.39 513.00,428.69 537.40,411.28 561.80,359.04 586.20,324.22 610.60,319.86 635.00,324.22 659.40,324.22" fill="none" stroke="#000" stroke-width="2.0" stroke-linejoin="round" stroke-linecap="round"/>
<rect x="363.30" y="438.45" width="6.60" height="6.60" fill="#000"/>
<rect x="387.70" y="438.45" width="6.60" height="6.60" fill="#000"/>
<rect x="412.10" y="438.45" width="6.60" height="6.60" fill="#000"/>
<rect x="436.50" y="438.45" width="6.60" height="6.60" fill="#000"/>
<rect x="460.90" y="438.45" width="6.60" height="6.60" fill="#000"/>
<rect x="485.30" y="434.09" width="6.60" height="6.60" fill="#000"/>
<rect x="509.70" y="425.39" width="6.60" height="6.60" fill="#000"/>
<rect x="534.10" y="407.98" width="6.60" height="6.60" fill="#000"/>
<rect x="558.50" y="355.74" width="6.60" height="6.60" fill="#000"/>
<rect x="582.90" y="320.92" width="6.60" height="6.60" fill="#000"/>
<rect x="607.30" y="316.56" width="6.60" height="6.60" fill="#000"/>
<rect x="631.70" y="320.92" width="6.60" height="6.60" fill="#000"/>
<rect x="656.10" y="320.92" width="6.60" height="6.60" fill="#000"/>
<text x="332.31" y="251.70" font-family='"Liberation Serif", serif' font-size="16" font-weight="normal" fill="#000" stroke="#000" stroke-width="0.15" textLength="24.99" lengthAdjust="spacingAndGlyphs">(D)</text>
<text transform="translate(344.30 416.81) rotate(-90)" x="0" y="0" font-family='"Liberation Sans", sans-serif' font-size="8.0" font-weight="bold" fill="#000" stroke="#000" stroke-width="0.12" textLength="26.28" lengthAdjust="spacingAndGlyphs">Growth</text>
<text transform="translate(344.30 388.07) rotate(-90)" x="0" y="0" font-family='"Liberation Sans", sans-serif' font-size="8.0" font-weight="bold" fill="#000" stroke="#000" stroke-width="0.12" textLength="12.64" lengthAdjust="spacingAndGlyphs">(OD</text>
<text transform="translate(344.30 372.64) rotate(-90)" x="0" y="0" font-family='"Liberation Sans", sans-serif' font-size="8.0" font-weight="bold" fill="#000" stroke="#000" stroke-width="0.12" textLength="5.81" lengthAdjust="spacingAndGlyphs">at</text>
<text transform="translate(344.30 363.90) rotate(-90)" x="0" y="0" font-family='"Liberation Sans", sans-serif' font-size="8.0" font-weight="bold" fill="#000" stroke="#000" stroke-width="0.12" textLength="11.72" lengthAdjust="spacingAndGlyphs">600</text>
<text transform="translate(344.30 349.69) rotate(-90)" x="0" y="0" font-family='"Liberation Sans", sans-serif' font-size="8.0" font-weight="bold" fill="#000" stroke="#000" stroke-width="0.12" textLength="13.87" lengthAdjust="spacingAndGlyphs">nm)</text>
<text x="485.71" y="470.20" font-family='"Liberation Sans", sans-serif' font-size="8.0" font-weight="bold" fill="#000" stroke="#000" stroke-width="0.12" textLength="37.11" lengthAdjust="spacingAndGlyphs">Incubation</text>
<text x="525.55" y="470.20" font-family='"Liberation Sans", sans-serif' font-size="8.0" font-weight="bold" fill="#000" stroke="#000" stroke-width="0.12" textLength="14.76" lengthAdjust="spacingAndGlyphs">time</text>
<text x="542.95" y="470.20" font-family='"Liberation Sans", sans-serif' font-size="8.0" font-weight="bold" fill="#000" stroke="#000" stroke-width="0.12" textLength="9.62" lengthAdjust="spacingAndGlyphs">(h)</text>
<path d="M6.30 26.20H23.90" stroke="#000" stroke-width="2.1"/>
<path d="M15.10 23.50L17.30 26.20L15.10 28.90L12.90 26.20Z" fill="#000" stroke="#3d74c4" stroke-width="0.6"/>
<text x="25.11" y="29.00" font-family='"Liberation Sans", sans-serif' font-size="8.4" font-weight="normal" fill="#111" stroke="#111" stroke-width="0.12" textLength="38.82" lengthAdjust="spacingAndGlyphs">Ceftriaxone</text>
<text x="66.58" y="29.00" font-family='"Liberation Sans", sans-serif' font-size="8.4" font-weight="normal" fill="#111" stroke="#111" stroke-width="0.12" textLength="18.01" lengthAdjust="spacingAndGlyphs">0.001</text>
<text x="86.95" y="29.00" font-family='"Liberation Sans", sans-serif' font-size="8.4" font-weight="normal" fill="#111" stroke="#111" stroke-width="0.12" textLength="22.51" lengthAdjust="spacingAndGlyphs">mg/ml</text>
<path d="M111.30 26.20H128.90" stroke="#000" stroke-width="2.1"/>
<rect x="117.40" y="23.50" width="5.40" height="5.40" fill="#000"/>
<text x="129.88" y="29.00" font-family='"Liberation Sans", sans-serif' font-size="8.4" font-weight="normal" fill="#111" stroke="#111" stroke-width="0.12" textLength="29.86" lengthAdjust="spacingAndGlyphs">Negative</text>
<text x="162.32" y="29.00" font-family='"Liberation Sans", sans-serif' font-size="8.4" font-weight="normal" fill="#111" stroke="#111" stroke-width="0.12" textLength="24.12" lengthAdjust="spacingAndGlyphs">control</text>
<path d="M216.00 26.20H233.60" stroke="#000" stroke-width="2.1"/>
<path d="M224.80 23.40L227.65 28.70L221.95 28.70Z" fill="#000" stroke="#1f2a44" stroke-width="0.4"/>
<text x="234.57" y="29.00" font-family='"Liberation Sans", sans-serif' font-size="8.4" font-weight="normal" fill="#111" stroke="#111" stroke-width="0.12" textLength="14.00" lengthAdjust="spacingAndGlyphs">CEO</text>
<text x="251.38" y="29.00" font-family='"Liberation Sans", sans-serif' font-size="8.4" font-weight="normal" fill="#111" stroke="#111" stroke-width="0.12" textLength="18.11" lengthAdjust="spacingAndGlyphs">421.5</text>
<text x="271.92" y="29.00" font-family='"Liberation Sans", sans-serif' font-size="8.4" font-weight="normal" fill="#111" stroke="#111" stroke-width="0.12" textLength="22.84" lengthAdjust="spacingAndGlyphs">mg/ml</text>
<path d="M6.30 41.50H23.90" stroke="#000" stroke-width="2.1"/>
<path d="M12.50 39.00L17.70 44.00M17.70 39.00L12.50 44.00" stroke="#111" stroke-width="1.1" fill="none"/>
<text x="25.18" y="44.00" font-family='"Liberation Sans", sans-serif' font-size="8.4" font-weight="normal" fill="#111" stroke="#111" stroke-width="0.12" textLength="13.81" lengthAdjust="spacingAndGlyphs">CEO</text>
<text x="41.58" y="44.00" font-family='"Liberation Sans", sans-serif' font-size="8.4" font-weight="normal" fill="#111" stroke="#111" stroke-width="0.12" textLength="22.24" lengthAdjust="spacingAndGlyphs">210.75</text>
<text x="66.22" y="44.00" font-family='"Liberation Sans", sans-serif' font-size="8.4" font-weight="normal" fill="#111" stroke="#111" stroke-width="0.12" textLength="22.53" lengthAdjust="spacingAndGlyphs">mg/ml</text>
<path d="M111.30 41.50H128.90" stroke="#000" stroke-width="2.1"/>
<path d="M117.50 39.40L122.70 43.60M122.70 39.40L117.50 43.60M120.10 39.40L120.10 43.60" stroke="#111" stroke-width="1.1" fill="none"/>
<text x="129.97" y="44.00" font-family='"Liberation Sans", sans-serif' font-size="8.4" font-weight="normal" fill="#111" stroke="#111" stroke-width="0.12" textLength="13.96" lengthAdjust="spacingAndGlyphs">CEO</text>
<text x="146.34" y="44.00" font-family='"Liberation Sans", sans-serif' font-size="8.4" font-weight="normal" fill="#111" stroke="#111" stroke-width="0.12" textLength="26.91" lengthAdjust="spacingAndGlyphs">105.375</text>
<text x="175.68" y="44.00" font-family='"Liberation Sans", sans-serif' font-size="8.4" font-weight="normal" fill="#111" stroke="#111" stroke-width="0.12" textLength="22.78" lengthAdjust="spacingAndGlyphs">mg/ml</text>
<path d="M344.80 22.90H362.40" stroke="#000" stroke-width="2.1"/>
<path d="M353.60 20.20L355.80 22.90L353.60 25.60L351.40 22.90Z" fill="#000" stroke="#3d74c4" stroke-width="0.6"/>
<text x="363.51" y="25.50" font-family='"Liberation Sans", sans-serif' font-size="8.4" font-weight="normal" fill="#111" stroke="#111" stroke-width="0.12" textLength="39.06" lengthAdjust="spacingAndGlyphs">Ceftriaxone</text>
<text x="405.22" y="25.50" font-family='"Liberation Sans", sans-serif' font-size="8.4" font-weight="normal" fill="#111" stroke="#111" stroke-width="0.12" textLength="18.12" lengthAdjust="spacingAndGlyphs">0.001</text>
<text x="425.71" y="25.50" font-family='"Liberation Sans", sans-serif' font-size="8.4" font-weight="normal" fill="#111" stroke="#111" stroke-width="0.12" textLength="22.65" lengthAdjust="spacingAndGlyphs">mg/ml</text>
<path d="M449.80 22.90H467.40" stroke="#000" stroke-width="2.1"/>
<rect x="455.90" y="20.20" width="5.40" height="5.40" fill="#000"/>
<text x="468.18" y="25.50" font-family='"Liberation Sans", sans-serif' font-size="8.4" font-weight="normal" fill="#111" stroke="#111" stroke-width="0.12" textLength="29.80" lengthAdjust="spacingAndGlyphs">Negative</text>
<text x="500.57" y="25.50" font-family='"Liberation Sans", sans-serif' font-size="8.4" font-weight="normal" fill="#111" stroke="#111" stroke-width="0.12" textLength="24.07" lengthAdjust="spacingAndGlyphs">control</text>
<path d="M554.70 22.90H572.30" stroke="#000" stroke-width="2.1"/>
<path d="M563.50 20.10L566.35 25.40L560.65 25.40Z" fill="#000" stroke="#1f2a44" stroke-width="0.4"/>
<text x="572.99" y="25.50" font-family='"Liberation Sans", sans-serif' font-size="8.4" font-weight="normal" fill="#111" stroke="#111" stroke-width="0.12" textLength="27.28" lengthAdjust="spacingAndGlyphs">Eugenol</text>
<text x="602.76" y="25.50" font-family='"Liberation Sans", sans-serif' font-size="8.4" font-weight="normal" fill="#111" stroke="#111" stroke-width="0.12" textLength="13.77" lengthAdjust="spacingAndGlyphs">0.05</text>
<text x="618.95" y="25.50" font-family='"Liberation Sans", sans-serif' font-size="8.4" font-weight="normal" fill="#111" stroke="#111" stroke-width="0.12" textLength="22.51" lengthAdjust="spacingAndGlyphs">mg/ml</text>
<path d="M344.80 38.00H362.40" stroke="#000" stroke-width="2.1"/>
<path d="M351.00 35.50L356.20 40.50M356.20 35.50L351.00 40.50" stroke="#111" stroke-width="1.1" fill="none"/>
<text x="363.29" y="40.50" font-family='"Liberation Sans", sans-serif' font-size="8.4" font-weight="normal" fill="#111" stroke="#111" stroke-width="0.12" textLength="27.45" lengthAdjust="spacingAndGlyphs">Eugenol</text>
<text x="393.23" y="40.50" font-family='"Liberation Sans", sans-serif' font-size="8.4" font-weight="normal" fill="#111" stroke="#111" stroke-width="0.12" textLength="13.92" lengthAdjust="spacingAndGlyphs">0.02</text>
<text x="409.51" y="40.50" font-family='"Liberation Sans", sans-serif' font-size="8.4" font-weight="normal" fill="#111" stroke="#111" stroke-width="0.12" textLength="22.65" lengthAdjust="spacingAndGlyphs">mg/ml</text>
<path d="M449.80 38.00H467.40" stroke="#000" stroke-width="2.1"/>
<path d="M456.00 35.90L461.20 40.10M461.20 35.90L456.00 40.10M458.60 35.90L458.60 40.10" stroke="#111" stroke-width="1.1" fill="none"/>
<text x="468.19" y="40.50" font-family='"Liberation Sans", sans-serif' font-size="8.4" font-weight="normal" fill="#111" stroke="#111" stroke-width="0.12" textLength="27.24" lengthAdjust="spacingAndGlyphs">Eugenol</text>
<text x="497.92" y="40.50" font-family='"Liberation Sans", sans-serif' font-size="8.4" font-weight="normal" fill="#111" stroke="#111" stroke-width="0.12" textLength="13.80" lengthAdjust="spacingAndGlyphs">0.01</text>
<text x="514.08" y="40.50" font-family='"Liberation Sans", sans-serif' font-size="8.4" font-weight="normal" fill="#111" stroke="#111" stroke-width="0.12" textLength="22.47" lengthAdjust="spacingAndGlyphs">mg/ml</text>
<path d="M45.20 258.10H62.80" stroke="#000" stroke-width="2.1"/>
<path d="M54.00 255.40L56.20 258.10L54.00 260.80L51.80 258.10Z" fill="#000" stroke="#3d74c4" stroke-width="0.6"/>
<text x="63.51" y="260.80" font-family='"Liberation Sans", sans-serif' font-size="8.4" font-weight="normal" fill="#111" stroke="#111" stroke-width="0.12" textLength="39.01" lengthAdjust="spacingAndGlyphs">Ceftriaxone</text>
<text x="105.18" y="260.80" font-family='"Liberation Sans", sans-serif' font-size="8.4" font-weight="normal" fill="#111" stroke="#111" stroke-width="0.12" textLength="18.10" lengthAdjust="spacingAndGlyphs">0.001</text>
<text x="125.64" y="260.80" font-family='"Liberation Sans", sans-serif' font-size="8.4" font-weight="normal" fill="#111" stroke="#111" stroke-width="0.12" textLength="22.62" lengthAdjust="spacingAndGlyphs">mg/ml</text>
<path d="M167.60 258.10H185.20" stroke="#000" stroke-width="2.1"/>
<rect x="173.70" y="255.40" width="5.40" height="5.40" fill="#000"/>
<text x="185.68" y="260.80" font-family='"Liberation Sans", sans-serif' font-size="8.4" font-weight="normal" fill="#111" stroke="#111" stroke-width="0.12" textLength="30.02" lengthAdjust="spacingAndGlyphs">Negative</text>
<text x="218.29" y="260.80" font-family='"Liberation Sans", sans-serif' font-size="8.4" font-weight="normal" fill="#111" stroke="#111" stroke-width="0.12" textLength="24.25" lengthAdjust="spacingAndGlyphs">control</text>
<path d="M45.20 272.90H62.80" stroke="#000" stroke-width="2.1"/>
<path d="M54.00 270.10L56.85 275.40L51.15 275.40Z" fill="#000" stroke="#1f2a44" stroke-width="0.4"/>
<text x="63.51" y="275.60" font-family='"Liberation Sans", sans-serif' font-size="8.4" font-weight="normal" fill="#111" stroke="#111" stroke-width="0.12" textLength="56.94" lengthAdjust="spacingAndGlyphs">Cinnamaldehyde</text>
<text x="123.12" y="275.60" font-family='"Liberation Sans", sans-serif' font-size="8.4" font-weight="normal" fill="#111" stroke="#111" stroke-width="0.12" textLength="18.25" lengthAdjust="spacingAndGlyphs">0.209</text>
<text x="143.75" y="275.60" font-family='"Liberation Sans", sans-serif' font-size="8.4" font-weight="normal" fill="#111" stroke="#111" stroke-width="0.12" textLength="22.81" lengthAdjust="spacingAndGlyphs">mg/ml</text>
<path d="M167.60 272.90H185.20" stroke="#000" stroke-width="2.1"/>
<path d="M173.80 270.40L179.00 275.40M179.00 270.40L173.80 275.40" stroke="#111" stroke-width="1.1" fill="none"/>
<text x="185.91" y="275.60" font-family='"Liberation Sans", sans-serif' font-size="8.4" font-weight="normal" fill="#111" stroke="#111" stroke-width="0.12" textLength="56.71" lengthAdjust="spacingAndGlyphs">Cinnamaldehyde</text>
<text x="245.29" y="275.60" font-family='"Liberation Sans", sans-serif' font-size="8.4" font-weight="normal" fill="#111" stroke="#111" stroke-width="0.12" textLength="18.03" lengthAdjust="spacingAndGlyphs">0.104</text>
<text x="265.84" y="275.60" font-family='"Liberation Sans", sans-serif' font-size="8.4" font-weight="normal" fill="#111" stroke="#111" stroke-width="0.12" textLength="22.72" lengthAdjust="spacingAndGlyphs">mg/ml</text>
<path d="M45.20 288.60H62.80" stroke="#000" stroke-width="2.1"/>
<path d="M51.40 286.50L56.60 290.70M56.60 286.50L51.40 290.70M54.00 286.50L54.00 290.70" stroke="#111" stroke-width="1.1" fill="none"/>
<text x="63.51" y="290.90" font-family='"Liberation Sans", sans-serif' font-size="8.4" font-weight="normal" fill="#111" stroke="#111" stroke-width="0.12" textLength="56.94" lengthAdjust="spacingAndGlyphs">Cinnamaldehyde</text>
<text x="123.12" y="290.90" font-family='"Liberation Sans", sans-serif' font-size="8.4" font-weight="normal" fill="#111" stroke="#111" stroke-width="0.12" textLength="18.27" lengthAdjust="spacingAndGlyphs">0.052</text>
<text x="143.75" y="290.90" font-family='"Liberation Sans", sans-serif' font-size="8.4" font-weight="normal" fill="#111" stroke="#111" stroke-width="0.12" textLength="22.81" lengthAdjust="spacingAndGlyphs">mg/ml</text>
<path d="M347.60 260.80H365.20" stroke="#000" stroke-width="2.1"/>
<path d="M356.40 258.10L358.60 260.80L356.40 263.50L354.20 260.80Z" fill="#000" stroke="#3d74c4" stroke-width="0.6"/>
<text x="365.91" y="263.30" font-family='"Liberation Sans", sans-serif' font-size="8.4" font-weight="normal" fill="#111" stroke="#111" stroke-width="0.12" textLength="38.96" lengthAdjust="spacingAndGlyphs">Ceftriaxone</text>
<text x="407.53" y="263.30" font-family='"Liberation Sans", sans-serif' font-size="8.4" font-weight="normal" fill="#111" stroke="#111" stroke-width="0.12" textLength="18.08" lengthAdjust="spacingAndGlyphs">0.001</text>
<text x="427.97" y="263.30" font-family='"Liberation Sans", sans-serif' font-size="8.4" font-weight="normal" fill="#111" stroke="#111" stroke-width="0.12" textLength="22.59" lengthAdjust="spacingAndGlyphs">mg/ml</text>
<path d="M506.60 260.80H524.20" stroke="#000" stroke-width="2.1"/>
<rect x="512.70" y="258.10" width="5.40" height="5.40" fill="#000"/>
<text x="524.98" y="263.30" font-family='"Liberation Sans", sans-serif' font-size="8.4" font-weight="normal" fill="#111" stroke="#111" stroke-width="0.12" textLength="29.91" lengthAdjust="spacingAndGlyphs">Negative</text>
<text x="557.48" y="263.30" font-family='"Liberation Sans", sans-serif' font-size="8.4" font-weight="normal" fill="#111" stroke="#111" stroke-width="0.12" textLength="24.16" lengthAdjust="spacingAndGlyphs">control</text>
<path d="M347.60 275.90H365.20" stroke="#000" stroke-width="2.1"/>
<path d="M356.40 273.10L359.25 278.40L353.55 278.40Z" fill="#000" stroke="#1f2a44" stroke-width="0.4"/>
<text x="365.96" y="278.60" font-family='"Liberation Sans", sans-serif' font-size="8.4" font-weight="normal" fill="#111" stroke="#111" stroke-width="0.12" textLength="31.39" lengthAdjust="spacingAndGlyphs">α-Methyl</text>
<text x="399.77" y="278.60" font-family='"Liberation Sans", sans-serif' font-size="8.4" font-weight="normal" fill="#111" stroke="#111" stroke-width="0.12" textLength="55.36" lengthAdjust="spacingAndGlyphs">cinnamaldehyde</text>
<text x="457.71" y="278.60" font-family='"Liberation Sans", sans-serif' font-size="8.4" font-weight="normal" fill="#111" stroke="#111" stroke-width="0.12" textLength="22.57" lengthAdjust="spacingAndGlyphs">26.375</text>
<text x="482.71" y="278.60" font-family='"Liberation Sans", sans-serif' font-size="8.4" font-weight="normal" fill="#111" stroke="#111" stroke-width="0.12" textLength="22.86" lengthAdjust="spacingAndGlyphs">mg/ml</text>
<path d="M506.60 275.90H524.20" stroke="#000" stroke-width="2.1"/>
<path d="M512.80 273.40L518.00 278.40M518.00 273.40L512.80 278.40" stroke="#111" stroke-width="1.1" fill="none"/>
<text x="525.26" y="278.60" font-family='"Liberation Sans", sans-serif' font-size="8.4" font-weight="normal" fill="#111" stroke="#111" stroke-width="0.12" textLength="31.33" lengthAdjust="spacingAndGlyphs">α-Methyl</text>
<text x="559.01" y="278.60" font-family='"Liberation Sans", sans-serif' font-size="8.4" font-weight="normal" fill="#111" stroke="#111" stroke-width="0.12" textLength="55.24" lengthAdjust="spacingAndGlyphs">cinnamaldehyde</text>
<text x="616.64" y="278.60" font-family='"Liberation Sans", sans-serif' font-size="8.4" font-weight="normal" fill="#111" stroke="#111" stroke-width="0.12" textLength="18.53" lengthAdjust="spacingAndGlyphs">13.19</text>
<text x="637.55" y="278.60" font-family='"Liberation Sans", sans-serif' font-size="8.4" font-weight="normal" fill="#111" stroke="#111" stroke-width="0.12" textLength="22.81" lengthAdjust="spacingAndGlyphs">mg/ml</text>
<path d="M347.60 291.50H365.20" stroke="#000" stroke-width="2.1"/>
<path d="M353.80 289.40L359.00 293.60M359.00 289.40L353.80 293.60M356.40 289.40L356.40 293.60" stroke="#111" stroke-width="1.1" fill="none"/>
<text x="365.96" y="293.60" font-family='"Liberation Sans", sans-serif' font-size="8.4" font-weight="normal" fill="#111" stroke="#111" stroke-width="0.12" textLength="31.24" lengthAdjust="spacingAndGlyphs">α-Methyl</text>
<text x="399.61" y="293.60" font-family='"Liberation Sans", sans-serif' font-size="8.4" font-weight="normal" fill="#111" stroke="#111" stroke-width="0.12" textLength="55.08" lengthAdjust="spacingAndGlyphs">cinnamaldehyde</text>
<text x="457.28" y="293.60" font-family='"Liberation Sans", sans-serif' font-size="8.4" font-weight="normal" fill="#111" stroke="#111" stroke-width="0.12" textLength="14.06" lengthAdjust="spacingAndGlyphs">6.59</text>
<text x="473.72" y="293.60" font-family='"Liberation Sans", sans-serif' font-size="8.4" font-weight="normal" fill="#111" stroke="#111" stroke-width="0.12" textLength="22.74" lengthAdjust="spacingAndGlyphs">mg/ml</text>
</svg>
</body></html>
